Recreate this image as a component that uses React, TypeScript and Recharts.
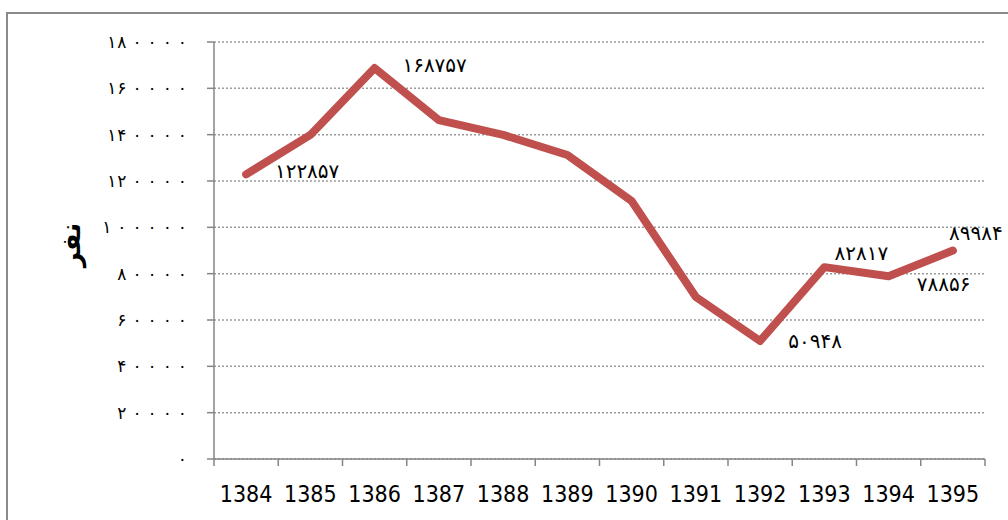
import { LineChart, Line, XAxis, YAxis, CartesianGrid, LabelList } from "recharts";

const years = ["1384", "1385", "1386", "1387", "1388", "1389", "1390", "1391", "1392", "1393", "1394", "1395"];
const values = [122857, 139900, 168757, 146300, 139900, 131200, 111400, 69900, 50948, 82817, 78856, 89984];
const labelled = [true, false, true, false, false, false, false, false, true, true, true, true];
const yTicks = [0, 20000, 40000, 60000, 80000, 100000, 120000, 140000, 160000, 180000];
const yTitle = "نفر";

const chartData = years.map((year, i) => ({
  year,
  value: values[i],
  label: labelled[i] ? values[i] : null,
}));

// label placement relative to the point (Excel-ish manual placement)
const labelOffsets: Record<string, [number, number]> = {
  "1384": [61, -3],
  "1386": [60, -3],
  "1392": [55, 0],
  "1393": [37, -14],
  "1394": [55, 8],
  "1395": [23, -18],
};

const persianDigits = "۰۱۲۳۴۵۶۷۸۹";
const toPersian = (n: number | string) => String(n).replace(/\d/g, (d) => persianDigits[Number(d)]);

const axisGray = "#868686";
const arabicFont = "'DejaVu Sans', sans-serif";
const latinFont = "'Liberation Sans Narrow', 'DejaVu Sans Condensed', 'Liberation Sans', sans-serif";

function YearTick(props: any) {
  const { x, y, payload, index, width, visibleTicksCount } = props;
  const half = width && visibleTicksCount ? width / visibleTicksCount / 2 : 32.1;
  return (
    <g>
      <line x1={x - half} x2={x - half} y1={y} y2={y + 7} stroke={axisGray} strokeWidth={1.5} />
      {index === years.length - 1 && (
        <line x1={x + half} x2={x + half} y1={y} y2={y + 7} stroke={axisGray} strokeWidth={1.5} />
      )}
      <text x={x} y={y + 43} textAnchor="middle" fontSize={23} fontFamily={latinFont} fill="#000">
        {payload.value}
      </text>
    </g>
  );
}

// chrome ignores letter-spacing on arabic digits, so space them by hand
// (the zeros are the wide dots in the original font)
function ValueTick(props: any) {
  const { x, y, payload } = props;
  const chars = toPersian(payload.value).split("");
  return (
    <text x={x} y={y} textAnchor="end" dominantBaseline="central" fontSize={17} fontFamily={arabicFont} fill="#000">
      {chars.map((c, i) => (
        <tspan key={i} dx={i === 0 ? 0 : c === "۰" ? 6 : 1}>
          {c}
        </tspan>
      ))}
    </text>
  );
}

function PointLabel(props: any) {
  const { x, y, value, index } = props;
  if (value == null) return null;
  const [dx, dy] = labelOffsets[years[index]] || [0, -12];
  return (
    <text
      x={x + dx}
      y={y + dy}
      textAnchor="middle"
      dominantBaseline="central"
      fontSize={20}
      fontFamily={arabicFont}
      fill="#000"
    >
      {toPersian(value)}
    </text>
  );
}

export default function App() {
  return (
    <div style={{ position: "absolute", left: 0, top: 0, width: 1008, height: 520, overflow: "hidden", background: "#fff" }}>
      <div
        style={{
          position: "absolute",
          left: 6,
          top: 12,
          width: 1010,
          height: 520,
          border: "2px solid #8a8a8a",
        }}
      />
      <div style={{ position: "absolute", left: 0, top: 0 }}>
        <LineChart width={1008} height={520} data={chartData} margin={{ top: 42, right: 23, bottom: 11, left: 124 }}>
          <CartesianGrid horizontal vertical={false} stroke="#9a9a9a" strokeDasharray="2 2" strokeWidth={1.5} />
          <XAxis
            dataKey="year"
            scale="band"
            height={50}
            axisLine={{ stroke: axisGray, strokeWidth: 1.5 }}
            tickLine={false}
            tickSize={0}
            tickMargin={0}
            interval={0}
            tick={<YearTick />}
          />
          <YAxis
            width={90}
            domain={[0, 180000]}
            ticks={yTicks}
            interval={0}
            axisLine={{ stroke: axisGray, strokeWidth: 1.5 }}
            tickLine={{ stroke: axisGray, strokeWidth: 1.5 }}
            tickSize={7}
            tickMargin={20}
            tick={<ValueTick />}
            label={{
              content: () => (
                <text
                  x={71}
                  y={245}
                  transform="rotate(-90 71 245)"
                  textAnchor="middle"
                  dominantBaseline="central"
                  fontSize={26}
                  fontWeight="bold"
                  fontFamily={arabicFont}
                  fill="#000"
                >
                  {yTitle}
                </text>
              ),
            }}
          />
          <Line
            type="linear"
            dataKey="value"
            stroke="#C0504D"
            strokeWidth={8}
            strokeLinecap="round"
            strokeLinejoin="round"
            dot={false}
            activeDot={false}
            isAnimationActive={false}
          >
            <LabelList dataKey="label" content={<PointLabel />} />
          </Line>
        </LineChart>
      </div>
    </div>
  );
}
